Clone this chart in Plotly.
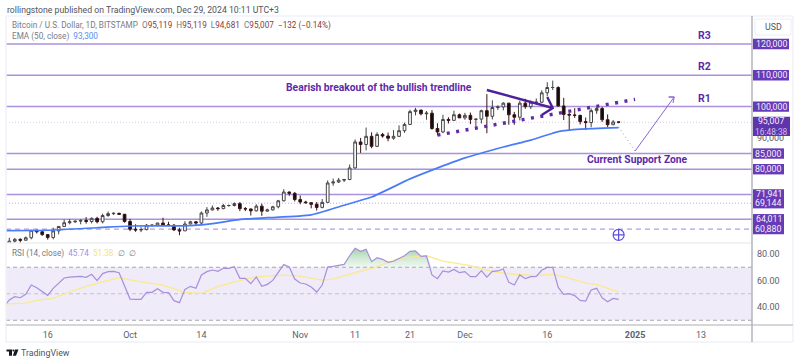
import pandas as pd
import plotly.graph_objects as go

W, H = 800, 364
FONT = "Roboto"
PURPLE = "#673ab7"
TITLE_PURPLE = "#5e2aa8"
LEVEL_PURPLE = "#ab91de"

# ---- candles (thousands of USD), one per day from 2024-09-09 ----
opens = [54.8,57.0,57.6,57.3,58.1,60.5,60.0,59.1,58.2,60.3,61.7,62.9,63.2,63.4,63.6,63.3,64.3,63.2,65.2,65.8,65.9,65.6,
         63.3,60.8,60.6,60.7,62.1,62.1,62.8,62.2,62.1,60.6,60.3,62.5,63.2,62.8,66.0,67.0,67.6,67.4,68.4,68.4,69.0,67.4,67.3,66.7,68.2,66.6,67.0,68.0,69.9,72.7,72.3,
         70.3,69.5,69.3,68.8,67.8,69.4,75.6,75.9,76.5,76.7,80.4,88.7,87.9,90.5,87.3,91.1,90.6,89.9,90.5,92.3,94.3,98.4,98.9,97.7,97.9,93.0,91.9,95.9,95.6,97.4,
         96.4,97.2,95.9,96.0,98.7,96.9,99.7,99.9,101.1,97.4,96.6,101.1,100.0,101.4,101.4,104.4,106.1,106.1,100.2,97.5,97.3,97.2,95.2,94.9,98.7,99.4,95.8,94.2,95.119]
highs = [58.1,58.0,57.9,58.5,60.6,60.6,60.4,59.2,61.3,61.7,63.9,64.1,63.5,64.0,64.7,64.6,64.8,65.8,66.5,66.2,66.1,65.7,
         64.1,62.4,61.5,62.5,62.4,62.9,64.5,63.2,62.5,61.3,63.4,63.5,63.3,66.5,67.9,68.4,67.9,68.9,68.7,69.4,69.5,67.9,67.4,68.8,69.0,67.4,68.3,70.2,73.6,72.9,72.7,
         71.6,69.9,69.4,69.5,70.5,76.4,77.0,77.2,76.9,81.5,89.5,90.0,93.3,91.8,91.8,91.6,91.7,92.5,94.0,94.9,99.0,99.6,98.9,98.6,98.9,94.7,97.4,96.6,98.7,97.8,
         98.0,98.1,96.1,99.0,104.0,102.0,100.4,101.4,101.2,98.3,101.9,102.5,101.9,102.6,105.2,107.8,108.3,106.5,102.8,98.0,99.5,97.4,96.5,99.4,99.9,99.9,97.5,95.7,95.119]
lows = [54.6,56.4,55.6,57.3,57.6,59.5,58.7,57.5,57.6,59.2,61.6,62.4,62.8,62.4,62.6,62.7,62.7,62.7,64.8,65.4,65.4,62.9,
        60.2,60.0,59.9,60.5,61.7,61.8,62.1,61.8,60.3,58.9,60.3,62.4,62.0,62.4,64.8,66.8,66.7,67.2,68.0,68.1,66.6,66.6,65.2,66.5,65.1,66.5,66.8,67.5,69.7,71.5,69.7,
        68.8,69.0,67.5,66.8,67.5,69.3,74.7,75.6,75.9,76.5,80.2,85.2,86.0,86.7,87.1,90.1,88.9,89.4,90.3,91.6,94.1,97.2,97.2,95.8,92.6,90.8,91.5,94.6,95.4,96.6,
        95.8,94.4,93.6,94.6,91.5,95.9,98.9,98.8,94.2,94.2,95.6,99.3,99.2,100.6,101.2,103.3,105.3,100.0,95.7,92.2,96.4,94.3,92.5,93.4,97.7,95.1,93.5,94.1,94.681]
closes = [57.0,57.6,57.3,58.1,60.5,60.0,59.1,58.2,60.3,61.7,62.9,63.2,63.4,63.6,63.3,64.3,63.2,65.2,65.8,65.9,65.6,63.3,
          60.8,60.6,60.7,62.1,62.1,62.8,62.2,62.1,60.6,60.3,62.5,63.2,62.8,66.0,67.0,67.6,67.4,68.4,68.4,69.0,67.4,67.3,66.7,68.2,66.6,67.0,68.0,69.9,72.7,72.3,70.3,
          69.5,69.3,68.8,67.8,69.4,75.6,75.9,76.5,76.7,80.4,88.7,87.9,90.5,87.3,91.1,90.6,89.9,90.5,92.3,94.3,98.4,98.9,97.7,97.9,93.0,91.9,95.9,95.6,97.4,96.4,
          97.2,95.9,96.0,98.7,96.9,99.7,99.9,101.1,97.4,96.6,101.1,100.0,101.4,101.4,104.4,106.1,106.1,100.2,97.5,97.3,97.2,95.2,94.9,98.7,99.4,95.8,94.2,95.1,95.007]

# ---- EMA 50, read at selected dates ----
ema_dates = ["2024-09-08","2024-09-16","2024-09-25","2024-10-01","2024-10-11","2024-10-14","2024-10-22","2024-10-26",
             "2024-11-03","2024-11-09","2024-11-14","2024-11-21","2024-11-25","2024-12-01","2024-12-08","2024-12-13",
             "2024-12-17","2024-12-18","2024-12-22","2024-12-29"]
ema_values = [60400,60500,61300,61850,61900,62200,64100,64500,65400,68500,71100,76900,79700,83600,87100,89300,91500,92000,92800,93300]

# ---- RSI, one per day from 2024-09-08 ----
rsi_values = [40.3,45.3,47.8,47.0,49.6,56.6,54.6,51.6,48.8,54.1,57.9,61.9,62.6,62.9,63.1,62.4,64.7,59.9,65.2,66.7,66.9,65.9,56.6,
              46.0,45.8,45.8,51.1,51.1,53.8,51.1,50.8,44.8,43.3,53.3,55.6,54.1,64.2,66.7,67.9,66.9,69.2,69.2,70.4,61.6,61.6,57.6,62.6,55.6,57.1,60.1,66.2,72.0,70.2,61.1,
              58.1,57.4,55.1,51.3,56.6,70.2,70.7,71.7,72.2,78.7,84.3,82.0,83.5,74.2,77.2,76.0,73.7,74.5,76.7,78.7,82.0,82.3,78.2,78.5,64.2,61.4,67.2,66.4,68.4,65.9,
              66.7,62.9,62.9,67.4,62.6,66.9,67.2,68.7,58.6,56.6,64.2,61.4,62.9,63.1,67.7,69.9,69.9,54.8,49.6,50.1,48.6,45.0,44.5,52.8,54.1,47.0,44.0,46.5,45.74]
rsi_ma_dates = ["2024-09-08","2024-09-12","2024-09-14","2024-09-17","2024-09-20","2024-09-23","2024-09-26","2024-09-29","2024-10-03",
                "2024-10-07","2024-10-11","2024-10-14","2024-10-17","2024-10-20","2024-10-24","2024-10-29","2024-11-01","2024-11-05",
                "2024-11-07","2024-11-11","2024-11-14","2024-11-19","2024-11-24","2024-11-27","2024-12-02","2024-12-06","2024-12-10",
                "2024-12-14","2024-12-17","2024-12-19","2024-12-23","2024-12-25","2024-12-29"]
rsi_ma_values = [42.3,43.0,45.0,46.5,51.5,55.6,59.0,62.1,59.0,56.6,51.0,50.3,55.3,59.0,62.8,64.0,63.3,60.3,61.0,66.0,69.0,76.7,
                 78.7,74.7,71.2,66.7,64.7,63.7,64.7,63.0,58.0,56.9,51.38]

# ---- horizontal levels and their tags ----
solid_levels = [120000,110000,100000,85000,80000,71941,64011]
dotted_levels = [69144]
dashed_levels = [60880]
last_close = 95007
tag_levels = [120000,110000,100000,85000,80000,71941,69144,64011,60880]
tag_labels = ["120,000","110,000","100,000","85,000","80,000","71,941","69,144","64,011","60,880"]
tag_right_edges = [789,789,789,784,784,784,784,784,784]
resist_names = ["R3","R2","R1"]
resist_levels = [120000,110000,100000]

# ---- drawings (date, price) ----
trend_dates = ["2024-11-26","2025-01-01"]
trend_prices = [90900,102300]
big_arrow_dates = ["2024-12-05","2024-12-17","2024-12-16","2024-12-17","2024-12-15"]
big_arrow_prices = [105300,99550,103070,99550,97300]
thin_arrow_dates = ["2025-01-01","2025-01-08 03:00","2025-01-07 03:00","2025-01-08 03:00","2025-01-07 22:00"]
thin_arrow_prices = [85800,103070,103070,103070,101150]
dot_dates = ["2024-12-29","2025-01-01"]
dot_prices = [93500,85800]

# ---- tick labels ----
x_tick_dates = ["2024-09-16","2024-10-01","2024-10-14","2024-11-01","2024-11-11","2024-11-21","2024-12-01","2024-12-16","2025-01-01","2025-01-13"]
x_tick_labels = ["16","Oct","14","Nov","11","21","Dec","16","<b>2025</b>","13"]

candle_dates = pd.date_range("2024-09-09", periods=len(opens))
rsi_dates = pd.date_range("2024-09-08", periods=len(rsi_values))

def px(x): return x / W
def py(y): return 1 - y / H

# linear pixel scale of both panes (from the axis labels)
PRICE_PER_PX = 1 / 0.00313
PRICE_RANGE = [120000 - (243 - 44) * PRICE_PER_PX, 120000 + (44 - 16) * PRICE_PER_PX]
RSI_RANGE = [80 - (325 - 254) / 1.325, 80 + (254 - 243) / 1.325]

fig = go.Figure()

fig.add_trace(go.Scatter(x=ema_dates, y=ema_values, mode="lines",
                         line=dict(color="#4a7cf7", width=1.7, shape="spline", smoothing=0.6), hoverinfo="skip"))
fig.add_trace(go.Candlestick(
    x=candle_dates, open=[v * 1000 for v in opens], high=[v * 1000 for v in highs],
    low=[v * 1000 for v in lows], close=[v * 1000 for v in closes],
    increasing=dict(line=dict(color="#444444", width=1), fillcolor="#ffffff"),
    decreasing=dict(line=dict(color="#3a1414", width=1), fillcolor="#0c0c0c"),
    whiskerwidth=0, hoverinfo="skip"))
fig.add_trace(go.Scatter(x=trend_dates, y=trend_prices, mode="lines",
                         line=dict(color=TITLE_PURPLE, width=3.4, dash="3px,6.5px"), hoverinfo="skip"))
fig.add_trace(go.Scatter(x=big_arrow_dates, y=big_arrow_prices, mode="lines",
                         line=dict(color="#4f2199", width=2.4), hoverinfo="skip"))
fig.add_trace(go.Scatter(x=thin_arrow_dates, y=thin_arrow_prices, mode="lines",
                         line=dict(color="#8a63d2", width=1), hoverinfo="skip"))
fig.add_trace(go.Scatter(x=dot_dates, y=dot_prices, mode="lines",
                         line=dict(color="#9a9a9a", width=1, dash="1px,3px"), hoverinfo="skip"))
fig.add_trace(go.Scatter(x=["2024-12-29"], y=[59000], mode="markers",
                         marker=dict(symbol="circle-cross-open", size=11, color="#5c4ee0", line=dict(width=1.2, color="#5c4ee0")),
                         hoverinfo="skip"))

# RSI pane
fig.add_trace(go.Scatter(x=rsi_dates, y=[70] * len(rsi_values), yaxis="y2", mode="lines",
                         line=dict(width=0), hoverinfo="skip"))
fig.add_trace(go.Scatter(x=rsi_dates, y=[max(v, 70) for v in rsi_values], yaxis="y2", mode="lines",
                         line=dict(width=0), fill="tonexty",
                         fillgradient=dict(type="vertical", start=85, stop=70,
                                           colorscale=[[0, "rgba(120,190,130,0.75)"], [1, "rgba(190,225,195,0.25)"]]),
                         hoverinfo="skip"))
fig.add_trace(go.Scatter(x=rsi_ma_dates, y=rsi_ma_values, yaxis="y2", mode="lines",
                         line=dict(color="#fbe98e", width=1.3), hoverinfo="skip"))
fig.add_trace(go.Scatter(x=rsi_dates, y=rsi_values, yaxis="y2", mode="lines",
                         line=dict(color="#a78fdc", width=1.2), hoverinfo="skip"))

shapes = []
X0, X1 = px(6), px(752)
def level(y, yref="y", **line):
    return dict(type="line", xref="paper", yref=yref, x0=X0, x1=X1, y0=y, y1=y, layer="below", line=line)

shapes.append(dict(type="rect", xref="paper", yref="y2", x0=X0, x1=X1, y0=30, y1=70, layer="below",
                   fillcolor="#efebf8", line=dict(width=0)))
for v in (70, 50, 30):
    shapes.append(level(v, "y2", color="#a8a4b0" if v != 50 else "#c6c2ce", width=1, dash="4px,3px"))
for v in solid_levels:
    shapes.append(level(v, color=LEVEL_PURPLE, width=1.5))
for v in dotted_levels:
    shapes.append(level(v, color="#c0a8e8", width=1, dash="1px,2px"))
for v in dashed_levels:
    shapes.append(level(v, color="#b79fe3", width=1.3, dash="5px,4px"))
shapes.append(level(last_close, color="#d6c9ec", width=1, dash="1px,2px"))

# panel frame and separators
def paper_line(x0, y0, x1, y1, color, width):
    return dict(type="line", xref="paper", yref="paper", x0=px(x0), x1=px(x1), y0=py(y0), y1=py(y1),
                line=dict(color=color, width=width))
shapes += [
    paper_line(6, 16, 793, 16, "#f0f2f8", 1.5),
    paper_line(6, 16, 6, 342, "#f0f2f8", 1.5),
    paper_line(793, 16, 793, 342, "#f0f2f8", 1.5),
    paper_line(6, 342, 793, 342, "#f0f2f8", 1.5),
    paper_line(6, 243, 752, 243, "#eceef2", 1.5),
    paper_line(6, 325, 793, 325, "#c6c8ce", 1.5),
    paper_line(752, 16, 752, 342, "#b2b4bb", 1.5),
    dict(type="rect", xref="paper", yref="paper", x0=px(755), x1=px(791), y0=py(19), y1=py(35),
         fillcolor="#ffffff", line=dict(color="#eceef2", width=1)),
]
# TradingView logo
def logo_path(pts):
    return "M" + " L".join(f"{px(x)},{py(y)}" for x, y in pts) + " Z"
for pts in ([(6.5, 349.5), (12, 349.5), (12, 355.7), (9, 355.7), (9, 351.6), (6.5, 351.6)],
            [(15, 349.5), (18.5, 349.5), (16, 355.7), (12.8, 355.7)]):
    shapes.append(dict(type="path", xref="paper", yref="paper", path=logo_path(pts),
                       fillcolor="#131722", line=dict(width=0)))
shapes.append(dict(type="circle", xref="paper", yref="paper", x0=px(12.4), x1=px(14.4), y0=py(351.6), y1=py(349.6),
                   fillcolor="#131722", line=dict(width=0)))

# price tags on the axis
TAG_HALF = 5.2 * PRICE_PER_PX
for v, right in zip(tag_levels, tag_right_edges):
    shapes.append(dict(type="rect", xref="paper", yref="y", x0=px(753), x1=px(right), y0=v - TAG_HALF, y1=v + TAG_HALF,
                       fillcolor=PURPLE, line=dict(width=0)))
shapes.append(dict(type="rect", xref="paper", yref="paper", x0=px(753), x1=px(790), y0=py(136), y1=py(116.7),
                   fillcolor="#5f35ac", line=dict(width=0)))

ann = []
def label(x, y, text, size=9.5, color="#787b86", anchor="left", **kw):
    ann.append(dict(xref="paper", yref="paper", x=px(x), y=py(y), text=text, showarrow=False, xanchor=anchor,
                    yanchor="middle", font=dict(family=FONT, size=size, color=color), **kw))

RED = "#8a3a3a"
label(5, 9.5, "rollingstone published on TradingView.com, Dec 29, 2024 10:11 UTC+3", size=8.7, color="#50535e")
label(10, 26, "Bitcoin / U.S. Dollar, 1D, BITSTAMP  "
      f"O<span style='color:{RED}'>95,119</span>  H<span style='color:{RED}'>95,119</span>  "
      f"L<span style='color:{RED}'>94,681</span>  C<span style='color:{RED}'>95,007</span>  "
      f"<span style='color:{RED}'>−132 (−0.14%)</span>", size=8.2)
label(10, 37, "EMA (50, close)  <span style='color:#5b8cf5'>93,300</span>", size=8.2)
label(10, 253, "RSI (14, close)  <span style='color:#a78fdc'>45.74</span>  <span style='color:#f5e27a'>51.38</span>  ∅  ∅", size=8.2)
label(19, 353, "TradingView", size=8.8, color="#50535e")
label(773, 27.5, "USD", size=8.8, color="#50535e", anchor="center")
label(284, 87.5, "<b>Bearish breakout of the bullish trendline</b>", size=10.3, color=TITLE_PURPLE)
label(585, 159, "<b>Current Support Zone</b>", size=10.3, color=TITLE_PURPLE)

for name, v in zip(resist_names, resist_levels):
    ann.append(dict(xref="paper", yref="y", x=px(704), y=v, yshift=0, text=f"<b>{name}</b>", showarrow=False,
                    xanchor="center", yanchor="bottom", font=dict(family=FONT, size=10.5, color=TITLE_PURPLE)))
for v, txt, right in zip(tag_levels, tag_labels, tag_right_edges):
    ann.append(dict(xref="paper", yref="y", x=px((753 + right) / 2), y=v, text=txt, showarrow=False,
                    xanchor="center", yanchor="middle", borderpad=0,
                    font=dict(family=FONT, size=8.8, color="#f3effc")))
ann.append(dict(xref="paper", yref="paper", x=px(771.5), y=py(126.3), showarrow=False, xanchor="center", yanchor="middle",
                text="95,007<br><span style='font-size:8.4px;color:#cdbdf0'>16:48:38</span>",
                align="center", borderpad=0, font=dict(family=FONT, size=8.8, color="#f3effc")))

axis_font = dict(family=FONT, size=9, color="#5d606b")
fig.update_layout(
    width=W, height=H, margin=dict(l=0, r=0, t=0, b=0), autosize=False,
    paper_bgcolor="#ffffff", plot_bgcolor="#ffffff", showlegend=False,
    shapes=shapes, annotations=ann,
    xaxis=dict(domain=[X0, X1], anchor="y2", type="date", range=["2024-09-08 09:36", "2025-01-22 07:12"],
               showgrid=False, zeroline=False, showline=False, rangeslider=dict(visible=False),
               tickmode="array", tickvals=x_tick_dates, ticktext=x_tick_labels, tickfont=axis_font, ticks="",
               ticklabelstandoff=3, tickangle=0),
    yaxis=dict(domain=[py(243), py(16)], range=PRICE_RANGE, side="right", anchor="x", showgrid=False, zeroline=False,
               tickmode="array", tickvals=[90000], ticktext=["90,000"], tickfont=axis_font, ticks="", ticklabelstandoff=4),
    yaxis2=dict(domain=[py(325), py(243)], range=RSI_RANGE, side="right", anchor="x", showgrid=False, zeroline=False,
                tickmode="array", tickvals=[40, 60, 80], ticktext=["40.00", "60.00", "80.00"], tickfont=axis_font,
                ticks="", ticklabelstandoff=4),
)
fig.write_html("out.html", config={"displayModeBar": False},
               post_script="document.body.style.margin='0';document.body.style.overflow='hidden';")
